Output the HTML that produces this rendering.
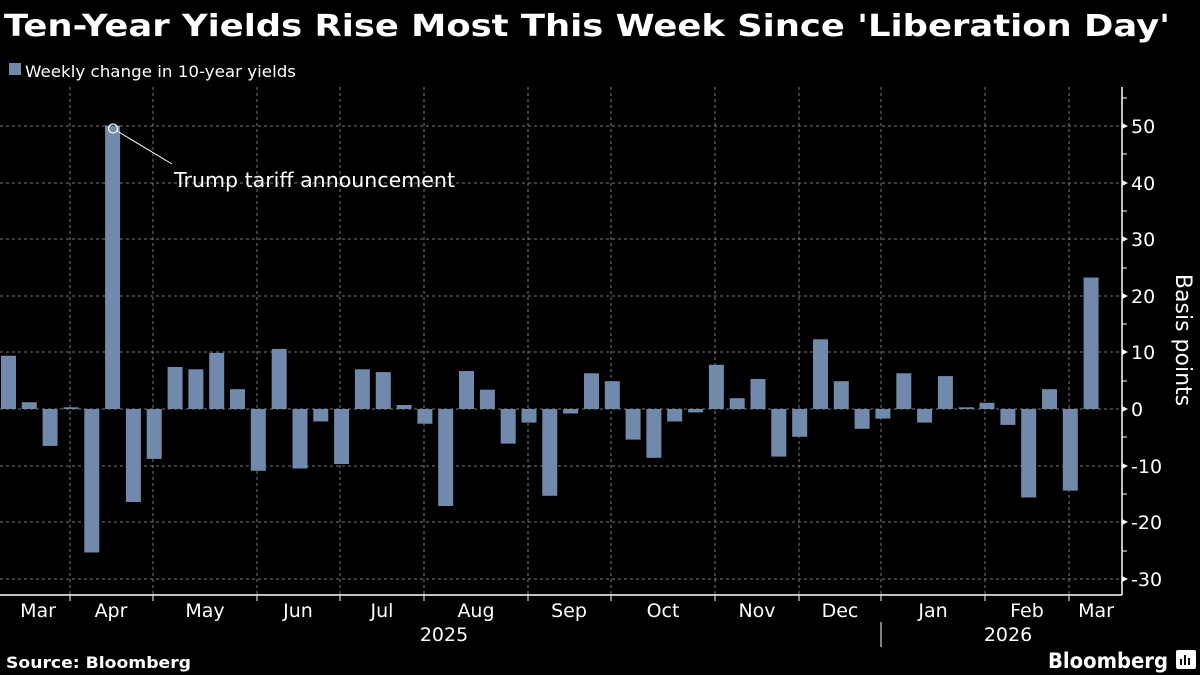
<!DOCTYPE html>
<html><head><meta charset="utf-8"><style>
html,body{margin:0;padding:0;background:#000;}
svg{display:block;font-family:"DejaVu Sans","Liberation Sans",sans-serif;}
</style></head><body>
<svg width="1200" height="675" viewBox="0 0 1200 675" xmlns="http://www.w3.org/2000/svg">
<rect width="1200" height="675" fill="#000"/>
<text x="4" y="36" fill="#fff" font-weight="bold" font-size="30" textLength="1166" lengthAdjust="spacingAndGlyphs">Ten-Year Yields Rise Most This Week Since 'Liberation Day'</text>
<rect x="9" y="63" width="12" height="12" fill="#7189ab"/>
<text x="25" y="77" fill="#fff" font-size="16" textLength="271" lengthAdjust="spacingAndGlyphs">Weekly change in 10-year yields</text>
<g stroke="#7a7a7a" stroke-width="1" stroke-dasharray="3,3">
<line x1="0" x2="1122" y1="126" y2="126"/><line x1="0" x2="1122" y1="183" y2="183"/><line x1="0" x2="1122" y1="239" y2="239"/><line x1="0" x2="1122" y1="296" y2="296"/><line x1="0" x2="1122" y1="352" y2="352"/><line x1="0" x2="1122" y1="409" y2="409"/><line x1="0" x2="1122" y1="466" y2="466"/><line x1="0" x2="1122" y1="522" y2="522"/><line x1="0" x2="1122" y1="579" y2="579"/>
<line x1="70" x2="70" y1="87" y2="595"/><line x1="153" x2="153" y1="87" y2="595"/><line x1="257" x2="257" y1="87" y2="595"/><line x1="340" x2="340" y1="87" y2="595"/><line x1="424" x2="424" y1="87" y2="595"/><line x1="528" x2="528" y1="87" y2="595"/><line x1="611" x2="611" y1="87" y2="595"/><line x1="715" x2="715" y1="87" y2="595"/><line x1="799" x2="799" y1="87" y2="595"/><line x1="881" x2="881" y1="87" y2="595"/><line x1="985" x2="985" y1="87" y2="595"/><line x1="1069" x2="1069" y1="87" y2="595"/>
</g>
<g fill="#7189ab">
<rect x="1" y="355.7" width="15" height="53.3"/><rect x="21.8" y="402.2" width="15" height="6.8"/><rect x="42.6" y="409" width="15" height="36.9"/><rect x="63.5" y="407.3" width="15" height="1.7"/><rect x="84.3" y="409" width="15" height="143.5"/><rect x="105.1" y="125.5" width="15" height="283.5"/><rect x="125.9" y="409" width="15" height="93"/><rect x="146.7" y="409" width="15" height="49.9"/><rect x="167.6" y="367" width="15" height="42"/><rect x="188.4" y="369.3" width="15" height="39.7"/><rect x="209.2" y="352.9" width="15" height="56.1"/><rect x="230" y="389.2" width="15" height="19.8"/><rect x="250.8" y="409" width="15" height="61.8"/><rect x="271.7" y="348.9" width="15" height="60.1"/><rect x="292.5" y="409" width="15" height="59.5"/><rect x="313.3" y="409" width="15" height="12.5"/><rect x="334.1" y="409" width="15" height="55"/><rect x="354.9" y="369.3" width="15" height="39.7"/><rect x="375.8" y="372.1" width="15" height="36.9"/><rect x="396.6" y="405" width="15" height="4"/><rect x="417.4" y="409" width="15" height="14.7"/><rect x="438.2" y="409" width="15" height="97"/><rect x="459" y="371" width="15" height="38"/><rect x="479.9" y="389.7" width="15" height="19.3"/><rect x="500.7" y="409" width="15" height="34.6"/><rect x="521.5" y="409" width="15" height="13.6"/><rect x="542.3" y="409" width="15" height="86.8"/><rect x="563.1" y="409" width="15" height="4.5"/><rect x="584" y="373.3" width="15" height="35.7"/><rect x="604.8" y="381.2" width="15" height="27.8"/><rect x="625.6" y="409" width="15" height="30.6"/><rect x="646.4" y="409" width="15" height="48.8"/><rect x="667.2" y="409" width="15" height="12.5"/><rect x="688.1" y="409" width="15" height="3.4"/><rect x="708.9" y="364.8" width="15" height="44.2"/><rect x="729.7" y="398.2" width="15" height="10.8"/><rect x="750.5" y="379" width="15" height="30"/><rect x="771.3" y="409" width="15" height="47.6"/><rect x="792.2" y="409" width="15" height="27.8"/><rect x="813" y="339.3" width="15" height="69.7"/><rect x="833.8" y="381.2" width="15" height="27.8"/><rect x="854.6" y="409" width="15" height="19.8"/><rect x="875.4" y="409" width="15" height="9.6"/><rect x="896.3" y="373.3" width="15" height="35.7"/><rect x="917.1" y="409" width="15" height="13.6"/><rect x="937.9" y="376.1" width="15" height="32.9"/><rect x="958.7" y="407.3" width="15" height="1.7"/><rect x="979.5" y="402.8" width="15" height="6.2"/><rect x="1000.4" y="409" width="15" height="15.9"/><rect x="1021.2" y="409" width="15" height="88.5"/><rect x="1042" y="389.2" width="15" height="19.8"/><rect x="1062.8" y="409" width="15" height="81.6"/><rect x="1083.6" y="277.5" width="15" height="131.5"/>
</g>
<circle cx="113" cy="128.5" r="4.5" fill="none" stroke="#fff" stroke-width="1.2"/>
<line x1="117" y1="131" x2="172" y2="164" stroke="#fff" stroke-width="1"/>
<text x="174" y="187" fill="#fff" font-size="20" textLength="281" lengthAdjust="spacingAndGlyphs">Trump tariff announcement</text>
<g stroke="#fff" stroke-width="1.5">
<line x1="0" x2="1122" y1="595" y2="595"/>
<line x1="1122" x2="1122" y1="87" y2="595"/>
</g>
<g stroke="#fff" stroke-width="1">
<line x1="70" x2="70" y1="595" y2="601"/><line x1="153" x2="153" y1="595" y2="601"/><line x1="257" x2="257" y1="595" y2="601"/><line x1="340" x2="340" y1="595" y2="601"/><line x1="424" x2="424" y1="595" y2="601"/><line x1="528" x2="528" y1="595" y2="601"/><line x1="611" x2="611" y1="595" y2="601"/><line x1="715" x2="715" y1="595" y2="601"/><line x1="799" x2="799" y1="595" y2="601"/><line x1="881" x2="881" y1="595" y2="601"/><line x1="985" x2="985" y1="595" y2="601"/><line x1="1069" x2="1069" y1="595" y2="601"/>
<line x1="881" x2="881" y1="622" y2="647"/>
<line x1="1122" x2="1127" y1="98" y2="98"/><line x1="1122" x2="1127" y1="154" y2="154"/><line x1="1122" x2="1127" y1="211" y2="211"/><line x1="1122" x2="1127" y1="268" y2="268"/><line x1="1122" x2="1127" y1="324" y2="324"/><line x1="1122" x2="1127" y1="381" y2="381"/><line x1="1122" x2="1127" y1="437" y2="437"/><line x1="1122" x2="1127" y1="494" y2="494"/><line x1="1122" x2="1127" y1="551" y2="551"/>
</g>
<g fill="#fff">
<polygon points="1122,123 1128,126 1122,129"/><polygon points="1122,180 1128,183 1122,186"/><polygon points="1122,236 1128,239 1122,242"/><polygon points="1122,293 1128,296 1122,299"/><polygon points="1122,349 1128,352 1122,355"/><polygon points="1122,406 1128,409 1122,412"/><polygon points="1122,463 1128,466 1122,469"/><polygon points="1122,519 1128,522 1122,525"/><polygon points="1122,576 1128,579 1122,582"/>
</g>
<g fill="#fff" font-size="19">
<text x="1131" y="133">50</text><text x="1131" y="190">40</text><text x="1131" y="246">30</text><text x="1131" y="303">20</text><text x="1131" y="359">10</text><text x="1131" y="416">0</text><text x="1131" y="473">-10</text><text x="1131" y="529">-20</text><text x="1131" y="586">-30</text>
</g>
<text transform="translate(1176,340) rotate(90)" fill="#fff" font-size="22" text-anchor="middle">Basis points</text>
<g fill="#fff" font-size="19" text-anchor="middle">
<text x="38" y="617">Mar</text><text x="111" y="617">Apr</text><text x="205" y="617">May</text><text x="298" y="617">Jun</text><text x="382" y="617">Jul</text><text x="476" y="617">Aug</text><text x="569" y="617">Sep</text><text x="663" y="617">Oct</text><text x="757" y="617">Nov</text><text x="840" y="617">Dec</text><text x="933" y="617">Jan</text><text x="1027" y="617">Feb</text><text x="1096" y="617">Mar</text>
<text x="444" y="641">2025</text><text x="1008" y="641">2026</text>
</g>
<text x="6" y="668" fill="#fff" font-size="16" font-weight="bold" textLength="185" lengthAdjust="spacingAndGlyphs">Source: Bloomberg</text>
<text x="1048" y="668" fill="#fff" font-size="21" font-weight="bold" textLength="120" lengthAdjust="spacingAndGlyphs">Bloomberg</text>
<rect x="1176" y="650" width="20" height="19" rx="2" fill="#fff"/>
<g fill="#000"><rect x="1180" y="659" width="2" height="6"/><rect x="1184" y="655" width="2" height="10"/><rect x="1188" y="658" width="2" height="7"/></g>
</svg>
</body></html>
